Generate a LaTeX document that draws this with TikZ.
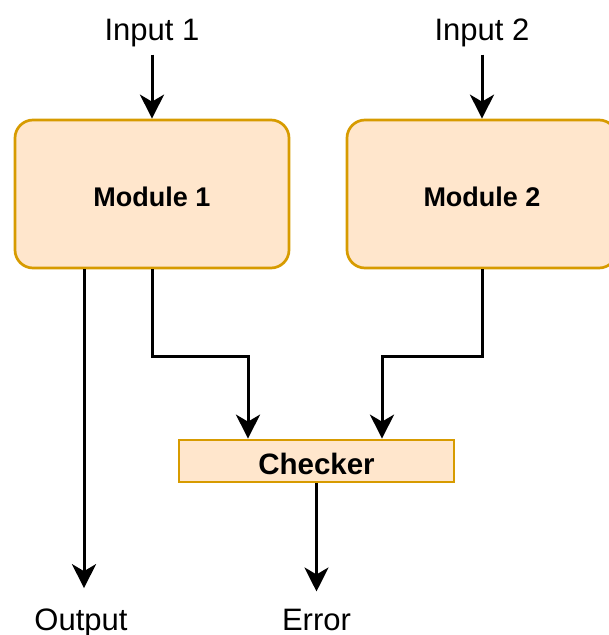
\documentclass[tikz,border=0pt]{standalone}
\usepackage{fontspec}
\setmainfont{Liberation Sans}
\usetikzlibrary{arrows.meta}
\definecolor{boxfill}{HTML}{FFE6CC}
\definecolor{boxline}{HTML}{D79B00}
\tikzset{
  module/.style={draw=boxline, fill=boxfill, line width=2.7pt, rounded corners=18pt,
    minimum height=148pt, inner sep=0pt, text height=25pt, text depth=0pt,
    font=\fontsize{27}{30}\selectfont\bfseries},
  checkbox/.style={draw=boxline, fill=boxfill, line width=2.7pt,
    minimum width=275pt, minimum height=42pt, inner sep=0pt,
    text height=27pt, text depth=0pt,
    font=\fontsize{29.5}{33}\selectfont\bfseries},
  lbl/.style={inner sep=0pt, anchor=base, font=\fontsize{31}{35}\selectfont},
  arr/.style={line width=3pt, -{Stealth[length=24pt, width=24pt, inset=7pt]}}
}
\begin{document}
\begin{tikzpicture}[x=1pt, y=-1pt]
  \useasboundingbox (0,0) rectangle (609,635);

  % inputs
  \node[lbl] (in1) at (152,40) {Input 1};
  \node[lbl] (in2) at (482,40) {Input 2};

  % modules
  \node[module, minimum width=274pt] (m1) at (152,194) {Module 1};
  \node[module, minimum width=270pt] (m2) at (482,194) {Module 2};

  % checker
  \node[checkbox] (chk) at (316.5,461) {Checker};

  % outputs
  \node[lbl] (out) at (81,630) {Output};
  \node[lbl] (err) at (316.5,630) {Error};

  % connectors
  \draw[arr, shorten <=8pt] (in1.south) -- (m1.north);
  \draw[arr, shorten <=8pt] (in2.south) -- (m2.north);
  \draw[arr, shorten >=20pt] ([xshift=3pt]m1.south -| out.north) -- ([xshift=3pt]out.north);
  \draw[arr] (m1.south) -- ++(0,87) -| ([xshift=-68.5pt]chk.north);
  \draw[arr] (m2.south) -- ++(0,87) -| ([xshift=65.5pt]chk.north);
  \draw[arr, shorten >=17pt] (chk.south) -- (err.north);
\end{tikzpicture}
\end{document}
